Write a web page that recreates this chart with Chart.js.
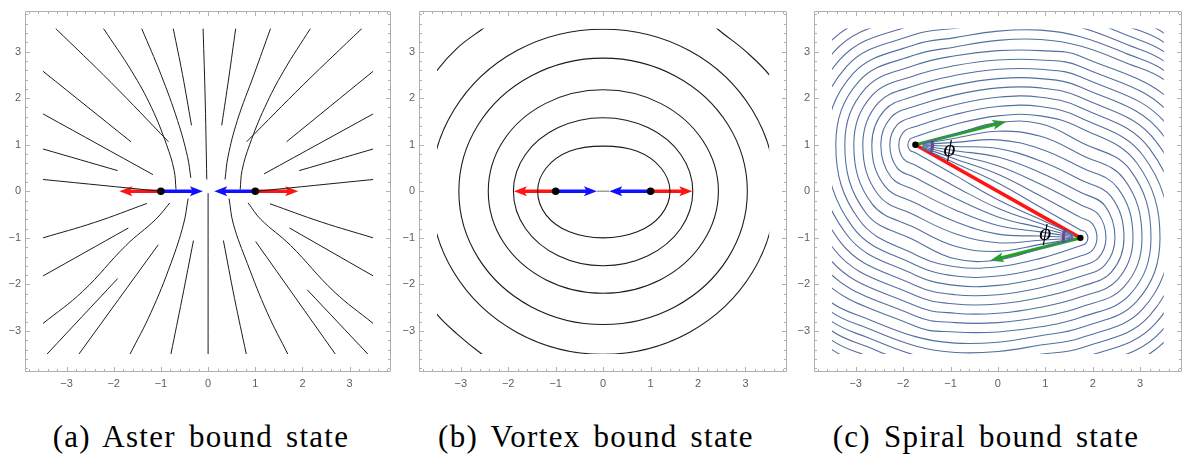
<!DOCTYPE html>
<html>
<head>
<meta charset="utf-8">
<title>Bound states</title>
<script src="https://cdn.jsdelivr.net/npm/chart.js@4.4.1/dist/chart.umd.min.js"></script>
<style>
  html, body { margin: 0; padding: 0; background: #fff; }
  body { position: relative; width: 1185px; height: 462px; overflow: hidden; }
  .panel { position: absolute; top: 0; height: 400px; }
  .caption {
    position: absolute;
    top: 420px;
    width: 400px;
    text-align: center;
    font-family: "Liberation Serif", "Noto Serif", "DejaVu Serif", "Times New Roman", Times, serif;
    font-size: 31px;
    line-height: 34px;
    letter-spacing: 1.3px;
    word-spacing: 4px;
    color: #000;
    white-space: nowrap;
  }
</style>
</head>
<body>
<div class="panel" style="left:0;width:395px"><canvas id="aster"></canvas></div>
<div class="panel" style="left:394px;width:397px"><canvas id="vortex"></canvas></div>
<div class="panel" style="left:789px;width:396px"><canvas id="spiral"></canvas></div>
<div class="caption" style="left:1px">(a) Aster bound state</div>
<div class="caption" style="left:396px">(b) Vortex bound state</div>
<div class="caption" style="left:786px">(c) Spiral bound state</div>

<script>
// axis values shared by the three panels
const TICK_VALUES = [-3, -2, -1, 0, 1, 2, 3];
const AXIS_LIMIT = 3.88;

// ---- (a) aster bound state
const asterParticles = [[-1, 0], [1, 0]];
const asterOutward = [[-1, 0, -1.88, 0], [1, 0, 1.91, 0]];
const asterInward = [[-1, 0, -0.11, 0], [1, 0, 0.13, 0]];
const asterLines = [
  [[-3.235, 3.5], [-2.05, 2.33], [-0.84, 1.064]],
  [[-3.5, 2.579], [-1.635, 1.064]],
  [[-3.5, 1.663], [-1.17, 0.359]],
  [[-3.5, 0.909], [-1.917, 0.444]],
  [[-3.5, 0.254], [-0.994, 0]],
  [[-2.22, 3.5], [-1.62, 2.58], [-1.2, 1.8], [-0.88, 1.0], [-0.72, 0.45], [-0.68, 0.04]],
  [[-1.409, 3.5], [-1.0, 2.509], [-0.648, 1.522], [-0.437, 0.747], [-0.366, 0.289]],
  [[-0.74, 3.5], [-0.543, 2.509], [-0.352, 1.416]],
  [[-0.106, 3.5], [-0.06, 1.9], [-0.028, 0.254]],
  [[0.585, 3.5], [0.44, 2.45], [0.289, 1.416]],
  [[1.325, 3.5], [0.973, 2.509], [0.62, 1.522], [0.423, 0.747], [0.359, 0.254]],
  [[2.171, 3.5], [1.6, 2.58], [1.2, 1.8], [0.88, 1.0], [0.72, 0.45], [0.68, 0.04]],
  [[3.263, 3.5], [2.03, 2.3], [0.817, 1.064]],
  [[3.5, 2.579], [1.663, 1.064]],
  [[3.5, 1.663], [1.184, 0.373]],
  [[3.5, 0.909], [1.931, 0.444]],
  [[3.5, 0.254], [1.022, 0]],
  [[-3.5, -1.0], [-2.41, -0.67], [-1.297, -0.261]],
  [[-3.5, -1.818], [-1.691, -0.789]],
  [[-3.5, -2.84], [-2.657, -2.149], [-1.741, -1.163], [-1.106, -0.599], [-0.81, -0.247]],
  [[-3.418, -3.5], [-1.917, -1.875]],
  [[-2.741, -3.5], [-1.057, -1.149]],
  [[-1.656, -3.5], [-1.212, -2.607], [-0.789, -1.55], [-0.521, -0.705], [-0.423, -0.155]],
  [[-0.789, -3.5], [-0.55, -2.3], [-0.31, -1.057]],
  [[0, -0.04], [0, -3.5]],
  [[3.5, -1.0], [2.4, -0.66], [1.311, -0.268]],
  [[3.5, -1.818], [1.727, -0.789]],
  [[3.5, -2.84], [2.664, -2.149], [1.748, -1.163], [1.113, -0.599], [0.846, -0.247]],
  [[3.39, -3.5], [2.1, -2.114]],
  [[2.699, -3.5], [1.008, -1.078]],
  [[1.691, -3.5], [1.254, -2.607], [0.832, -1.55], [0.536, -0.705], [0.444, -0.155]],
  [[0.81, -3.5], [0.56, -2.3], [0.324, -1.057]]
];

// ---- (b) vortex bound state
const vortexParticles = [[-1, 0], [1, 0]];
const vortexOutward = [[-1, 0, -1.88, 0], [1, 0, 1.88, 0]];
const vortexInward = [[-1, 0, -0.13, 0], [1, 0, 0.13, 0]];
const vortexRings = [
  [[1.22, -0.51], [1.41, 0], [1.22, 0.5], [0.72, 0.86], [0, 0.97], [-0.71, 0.86], [-1.2, 0.5], [-1.38, 0], [-1.2, -0.51], [-0.71, -0.87], [0, -1.0], [0.72, -0.87], [1.22, -0.51], [1.41, 0], [1.22, 0.5]],
  [[1.637, -0.8], [1.89, 0], [1.637, 0.79], [0.945, 1.368], [0, 1.58], [-0.945, 1.368], [-1.637, 0.79], [-1.89, 0], [-1.637, -0.8], [-0.945, -1.385], [0, -1.6], [0.945, -1.385], [1.637, -0.8], [1.89, 0], [1.637, 0.79]],
  [[2.1, -1.095], [2.43, 0], [2.1, 1.09], [1.21, 1.888], [0, 2.18], [-1.21, 1.888], [-2.1, 1.09], [-2.42, 0], [-2.1, -1.095], [-1.21, -1.897], [0, -2.19], [1.21, -1.897], [2.1, -1.095], [2.43, 0], [2.1, 1.09]],
  [[2.633, -1.43], [3.04, 0], [2.633, 1.43], [1.52, 2.477], [0, 2.86], [-1.52, 2.477], [-2.633, 1.43], [-3.04, 0], [-2.633, -1.43], [-1.52, -2.477], [0, -2.86], [1.52, -2.477], [2.633, -1.43], [3.04, 0], [2.633, 1.43]],
  [[3.144, -1.745], [3.63, 0], [3.144, 1.745], [1.815, 3.022], [0, 3.48], [-1.815, 3.022], [-3.144, 1.745], [-3.63, 0], [-3.144, -1.745], [-1.815, -3.03], [0, -3.5], [1.815, -3.03], [3.144, -1.745], [3.63, 0], [3.144, 1.745]]
];
const vortexCorners = [
  [[-3.8, 2.1], [-3.52, 2.57], [-3.08, 3.07], [-2.55, 3.48], [-2.1, 3.8]],
  [[2.1, 3.8], [2.42, 3.48], [2.99, 3.02], [3.52, 2.48], [3.8, 2.0]],
  [[-3.8, -2.15], [-3.52, -2.62], [-3.08, -3.06], [-2.55, -3.5], [-2.1, -3.8]]
];
const vortexMidStub = [[-0.13, 0], [0.13, 0]];

// ---- (c) spiral bound state
const spiralParticles = [[-1.74, 1], [1.74, -1]];
const spiralBond = [[-1.74, 1], [1.74, -1]];
const spiralHeadings = [[-1.74, 1, 0.18, 1.5], [1.74, -1, -0.17, -1.49]];
const spiralPhiLabels = [[-1.02, 0.89], [1.0, -0.92]];
const ANGLE_MARK_RADIUS = 0.36;

// streamlines leaving the upper particle
const spiralArmsA = [
  [[-1.606,0.932],[-0.9,0.604],[0,0.18],[0.9,-0.342],[1.74,-0.83],[1.853,-0.88],[1.9,-1],[1.853,-1.12],[1.74,-1.17],[0.9,-1.44],[0,-1.62],[-0.9,-1.62],[-1.74,-1.36],[-2.928,-0.612],[-3.42,1],[-2.928,2.365],[-1.74,2.93],[-0.9,3.1],[0,3.24],[0.9,3.26],[1.74,3.12],[2.75,2.74],[3.5,2.4],[4.3,1.65]],
  [[-1.6,0.946],[-0.9,0.693],[0,0.365],[0.9,-0.1],[1.74,-0.56],[1.987,-0.689],[2.09,-1],[1.987,-1.276],[1.74,-1.39],[0.9,-1.65],[0,-1.82],[-0.9,-1.82],[-1.74,-1.58],[-3.062,-0.768],[-3.61,1],[-3.062,2.52],[-1.74,3.15],[-0.9,3.3],[0,3.44],[0.9,3.46],[1.74,3.32],[2.75,2.94],[3.5,2.6],[4.3,1.85]],
  [[-1.595,0.961],[-0.9,0.783],[0,0.55],[0.9,0.15],[1.74,-0.29],[2.122,-0.498],[2.28,-1],[2.122,-1.431],[1.74,-1.61],[0.9,-1.86],[0,-2.02],[-0.9,-2.02],[-1.74,-1.8],[-3.196,-0.923],[-3.8,1],[-3.196,2.676],[-1.74,3.37],[-0.9,3.5],[0,3.64],[0.9,3.66],[1.74,3.52],[2.75,3.14],[3.5,2.8],[4.3,2.05]],
  [[-1.592,0.977],[-0.9,0.872],[0,0.735],[0.9,0.4],[1.74,-0.02],[2.256,-0.307],[2.47,-1],[2.256,-1.587],[1.74,-1.83],[0.9,-2.07],[0,-2.22],[-0.9,-2.22],[-1.74,-2.02],[-3.331,-1.079],[-3.99,1],[-3.331,2.831],[-1.74,3.59],[-0.9,3.7],[0,3.84],[0.9,3.86],[1.74,3.72],[2.75,3.34],[3.5,3.0],[4.3,2.25]],
  [[-1.59,0.992],[-0.9,0.961],[0,0.92],[0.9,0.65],[1.74,0.25],[2.39,-0.116],[2.66,-1],[2.39,-1.742],[1.74,-2.05],[0.9,-2.28],[0,-2.42],[-0.9,-2.42],[-1.74,-2.24],[-3.465,-1.234],[-4.18,1],[-3.465,2.987],[-1.74,3.81],[-0.9,3.9],[0,4.04],[0.9,4.06],[1.74,3.92],[2.75,3.54],[3.5,3.2],[4.3,2.45]],
  [[-1.59,1.008],[-0.9,1.051],[0,1.105],[0.9,0.91],[1.74,0.52],[2.525,0.075],[2.85,-1],[2.525,-1.898],[1.74,-2.27],[0.9,-2.49],[0,-2.62],[-0.9,-2.62],[-1.74,-2.46],[-3.599,-1.39],[-4.37,1],[-3.599,3.142],[-1.74,4.03],[-0.9,4.1],[0,4.24],[0.9,4.26],[1.74,4.12],[2.75,3.74],[3.5,3.4],[4.3,2.65]],
  [[-1.591,1.021],[-0.9,1.14],[0,1.29],[0.9,1.18],[1.74,0.79],[2.659,0.266],[3.04,-1],[2.659,-2.053],[1.74,-2.49],[0.9,-2.7],[0,-2.82],[-0.9,-2.82],[-1.74,-2.68],[-3.734,-1.545],[-4.56,1],[-3.734,3.298],[-1.74,4.25],[-0.9,4.3],[0,4.44],[0.9,4.46],[1.74,4.32],[2.75,3.94],[3.5,3.6],[4.3,2.85]],
  [[-1.594,1.034],[-0.9,1.229],[0,1.475],[0.9,1.45],[1.74,1.06],[2.793,0.456],[3.23,-1],[2.793,-2.209],[1.74,-2.71],[0.9,-2.91],[0,-3.02],[-0.9,-3.02],[-1.74,-2.9],[-3.868,-1.701],[-4.75,1],[-3.868,3.453],[-1.74,4.47],[-0.9,4.5],[0,4.64],[0.9,4.66],[1.74,4.52],[2.75,4.14],[3.5,3.8],[4.3,3.05]]
];

// streamlines leaving the lower particle
const spiralArmsB = [
  [[1.606,-0.932],[0.9,-0.604],[0,-0.18],[-0.9,0.342],[-1.74,0.83],[-1.853,0.88],[-1.9,1],[-1.853,1.12],[-1.74,1.17],[-0.9,1.44],[0,1.62],[0.9,1.62],[1.74,1.36],[2.928,0.612],[3.42,-1],[2.928,-2.365],[1.74,-2.93],[0.9,-3.1],[0,-3.24],[-0.9,-3.26],[-1.74,-3.12],[-2.75,-2.74],[-3.5,-2.4],[-4.3,-1.65]],
  [[1.6,-0.946],[0.9,-0.693],[0,-0.365],[-0.9,0.1],[-1.74,0.56],[-1.987,0.689],[-2.09,1],[-1.987,1.276],[-1.74,1.39],[-0.9,1.65],[0,1.82],[0.9,1.82],[1.74,1.58],[3.062,0.768],[3.61,-1],[3.062,-2.52],[1.74,-3.15],[0.9,-3.3],[0,-3.44],[-0.9,-3.46],[-1.74,-3.32],[-2.75,-2.94],[-3.5,-2.6],[-4.3,-1.85]],
  [[1.595,-0.961],[0.9,-0.783],[0,-0.55],[-0.9,-0.15],[-1.74,0.29],[-2.122,0.498],[-2.28,1],[-2.122,1.431],[-1.74,1.61],[-0.9,1.86],[0,2.02],[0.9,2.02],[1.74,1.8],[3.196,0.923],[3.8,-1],[3.196,-2.676],[1.74,-3.37],[0.9,-3.5],[0,-3.64],[-0.9,-3.66],[-1.74,-3.52],[-2.75,-3.14],[-3.5,-2.8],[-4.3,-2.05]],
  [[1.592,-0.977],[0.9,-0.872],[0,-0.735],[-0.9,-0.4],[-1.74,0.02],[-2.256,0.307],[-2.47,1],[-2.256,1.587],[-1.74,1.83],[-0.9,2.07],[0,2.22],[0.9,2.22],[1.74,2.02],[3.331,1.079],[3.99,-1],[3.331,-2.831],[1.74,-3.59],[0.9,-3.7],[0,-3.84],[-0.9,-3.86],[-1.74,-3.72],[-2.75,-3.34],[-3.5,-3.0],[-4.3,-2.25]],
  [[1.59,-0.992],[0.9,-0.961],[0,-0.92],[-0.9,-0.65],[-1.74,-0.25],[-2.39,0.116],[-2.66,1],[-2.39,1.742],[-1.74,2.05],[-0.9,2.28],[0,2.42],[0.9,2.42],[1.74,2.24],[3.465,1.234],[4.18,-1],[3.465,-2.987],[1.74,-3.81],[0.9,-3.9],[0,-4.04],[-0.9,-4.06],[-1.74,-3.92],[-2.75,-3.54],[-3.5,-3.2],[-4.3,-2.45]],
  [[1.59,-1.008],[0.9,-1.051],[0,-1.105],[-0.9,-0.91],[-1.74,-0.52],[-2.525,-0.075],[-2.85,1],[-2.525,1.898],[-1.74,2.27],[-0.9,2.49],[0,2.62],[0.9,2.62],[1.74,2.46],[3.599,1.39],[4.37,-1],[3.599,-3.142],[1.74,-4.03],[0.9,-4.1],[0,-4.24],[-0.9,-4.26],[-1.74,-4.12],[-2.75,-3.74],[-3.5,-3.4],[-4.3,-2.65]],
  [[1.591,-1.021],[0.9,-1.14],[0,-1.29],[-0.9,-1.18],[-1.74,-0.79],[-2.659,-0.266],[-3.04,1],[-2.659,2.053],[-1.74,2.49],[-0.9,2.7],[0,2.82],[0.9,2.82],[1.74,2.68],[3.734,1.545],[4.56,-1],[3.734,-3.298],[1.74,-4.25],[0.9,-4.3],[0,-4.44],[-0.9,-4.46],[-1.74,-4.32],[-2.75,-3.94],[-3.5,-3.6],[-4.3,-2.85]],
  [[1.594,-1.034],[0.9,-1.229],[0,-1.475],[-0.9,-1.45],[-1.74,-1.06],[-2.793,-0.456],[-3.23,1],[-2.793,2.209],[-1.74,2.71],[-0.9,2.91],[0,3.02],[0.9,3.02],[1.74,2.9],[3.868,1.701],[4.75,-1],[3.868,-3.453],[1.74,-4.47],[0.9,-4.5],[0,-4.64],[-0.9,-4.66],[-1.74,-4.52],[-2.75,-4.14],[-3.5,-3.8],[-4.3,-3.05]]
];

const RED = '#ff1414';
const BLUE = '#1010ff';
const GREEN = '#22a322';
const PURPLE = '#8a0a8a';
const INK = '#1c1c1c';
const STREAM = '#52709f';

function fmtTick(v) {
  return v < 0 ? '\u2212' + Math.abs(v) : String(v);
}

function axis(isX) {
  return {
    type: 'linear',
    min: -AXIS_LIMIT,
    max: AXIS_LIMIT,
    afterBuildTicks: s => { s.ticks = TICK_VALUES.map(value => ({ value })); },
    afterFit: s => { if (isX) s.height = 28; else s.width = 25; },
    grid: { display: false, drawTicks: false },
    border: { display: false },
    ticks: {
      color: '#5f5f5f',
      font: { family: "'Liberation Sans', 'DejaVu Sans', sans-serif", size: 11 },
      padding: isX ? 5 : 4,
      autoSkip: false,
      maxRotation: 0,
      callback: v => fmtTick(v)
    }
  };
}

// one streamline / contour; closed loops hide their overlapping end pieces
function curve(points, color, width, tension, closed) {
  const n = points.length;
  const ds = {
    type: 'line',
    data: points.map(([x, y]) => ({ x, y })),
    borderColor: color,
    borderWidth: width,
    pointRadius: 0,
    pointHoverRadius: 0,
    fill: false,
    tension: tension,
    capBezierPoints: false,
    clip: -18
  };
  if (closed) {
    ds.segment = {
      borderColor: c => (c.p0DataIndex === 0 || c.p1DataIndex === n - 1) ? 'rgba(0,0,0,0)' : color
    };
  }
  return ds;
}

function dots(points, radius) {
  return {
    type: 'scatter',
    data: points.map(([x, y]) => ({ x, y })),
    pointRadius: radius,
    pointHoverRadius: radius,
    pointBackgroundColor: '#000',
    pointBorderWidth: 0,
    showLine: false,
    clip: false
  };
}

function drawArrow(ctx, p0, p1, color, shaft, headLen, headHalf) {
  const ang = Math.atan2(p1[1] - p0[1], p1[0] - p0[0]);
  const c = Math.cos(ang), s = Math.sin(ang);
  const bx = p1[0] - headLen * c, by = p1[1] - headLen * s;
  ctx.strokeStyle = color;
  ctx.fillStyle = color;
  ctx.lineWidth = shaft;
  ctx.lineCap = 'butt';
  ctx.beginPath();
  ctx.moveTo(p0[0], p0[1]);
  ctx.lineTo(bx + 0.3 * headLen * c, by + 0.3 * headLen * s);
  ctx.stroke();
  ctx.beginPath();
  ctx.moveTo(p1[0], p1[1]);
  ctx.lineTo(bx - headHalf * s, by + headHalf * c);
  ctx.lineTo(bx + 0.22 * headLen * c, by + 0.22 * headLen * s);
  ctx.lineTo(bx + headHalf * s, by - headHalf * c);
  ctx.closePath();
  ctx.fill();
}

function drawFrame(chart) {
  const { ctx, chartArea: a, scales: { x, y } } = chart;
  ctx.save();
  ctx.strokeStyle = '#b0b0b0';
  ctx.lineWidth = 1;
  ctx.beginPath();
  const l = Math.round(a.left) + 0.5, t = Math.round(a.top) + 0.5;
  const r = Math.round(a.right) - 0.5, b = Math.round(a.bottom) - 0.5;
  ctx.rect(l, t, r - l, b - t);
  for (let k = -19; k <= 19; k++) {
    const v = k / 5;
    const len = k % 5 === 0 ? 4.5 : 2.5;
    const px = Math.round(x.getPixelForValue(v)) + 0.5;
    const py = Math.round(y.getPixelForValue(v)) + 0.5;
    ctx.moveTo(px, b); ctx.lineTo(px, b - len);
    ctx.moveTo(px, t); ctx.lineTo(px, t + len);
    ctx.moveTo(l, py); ctx.lineTo(l + len, py);
    ctx.moveTo(r, py); ctx.lineTo(r - len, py);
  }
  ctx.stroke();
  ctx.restore();
}

// arrows, bond and angle marks go under the particle dots (last dataset)
function overlay(spec) {
  return {
    id: 'overlay',
    beforeDatasetDraw(chart, args) {
      if (args.index !== chart.data.datasets.length - 1) return;
      const { ctx, scales: { x, y } } = chart;
      const toPx = (vx, vy) => [x.getPixelForValue(vx), y.getPixelForValue(vy)];
      ctx.save();
      (spec.bonds || []).forEach(([p, q]) => {
        const a = toPx(p[0], p[1]), b = toPx(q[0], q[1]);
        ctx.strokeStyle = RED;
        ctx.lineWidth = 3.5;
        ctx.lineCap = 'round';
        ctx.beginPath();
        ctx.moveTo(a[0], a[1]);
        ctx.lineTo(b[0], b[1]);
        ctx.stroke();
      });
      (spec.arrows || []).forEach(set => {
        set.list.forEach(([x0, y0, x1, y1]) => {
          drawArrow(ctx, toPx(x0, y0), toPx(x1, y1), set.color, set.shaft, set.head, set.half);
        });
      });
      if (spec.angles) {
        const rPx = Math.abs(x.getPixelForValue(spec.angles.radius) - x.getPixelForValue(0));
        spec.angles.list.forEach(({ at, toward, heading }) => {
          const c = toPx(at[0], at[1]);
          const pa = toPx(toward[0], toward[1]);
          const pb = toPx(heading[0], heading[1]);
          const a1 = Math.atan2(pa[1] - c[1], pa[0] - c[0]);
          const a2 = Math.atan2(pb[1] - c[1], pb[0] - c[0]);
          let d = a2 - a1;
          while (d > Math.PI) d -= 2 * Math.PI;
          while (d < -Math.PI) d += 2 * Math.PI;
          ctx.strokeStyle = PURPLE;
          ctx.lineWidth = 3.2;
          ctx.lineCap = 'butt';
          ctx.beginPath();
          ctx.arc(c[0], c[1], rPx, a1, a1 + d, d < 0);
          ctx.stroke();
        });
      }
      ctx.restore();
    },
    afterDatasetsDraw(chart) {
      if (!spec.labels) return;
      const { ctx, scales: { x, y } } = chart;
      ctx.save();
      ctx.fillStyle = '#000';
      ctx.font = 'italic 23px "Liberation Serif", "DejaVu Serif", serif';
      ctx.textAlign = 'center';
      ctx.textBaseline = 'middle';
      spec.labels.list.forEach(([vx, vy]) => {
        ctx.fillText(spec.labels.text, x.getPixelForValue(vx), y.getPixelForValue(vy));
      });
      ctx.restore();
    },
    afterDraw(chart) {
      drawFrame(chart);
    }
  };
}

function makeChart(id, datasets, spec) {
  return new Chart(document.getElementById(id), {
    type: 'scatter',
    data: { datasets },
    options: {
      responsive: true,
      maintainAspectRatio: false,
      animation: false,
      events: [],
      layout: { padding: { top: 5, right: 3, left: 0, bottom: 0 } },
      plugins: { legend: { display: false }, tooltip: { enabled: false } },
      scales: { x: axis(true), y: axis(false) }
    },
    plugins: [overlay(spec)]
  });
}

const pairArrows = (outward, inward) => [
  { list: outward, color: RED, shaft: 3.5, head: 13, half: 5 },
  { list: inward, color: BLUE, shaft: 3.5, head: 13, half: 5 }
];

makeChart('aster',
  [...asterLines.map(l => curve(l, INK, 1, 0.4, false)), dots(asterParticles, 3.8)],
  { arrows: pairArrows(asterOutward, asterInward) });

makeChart('vortex',
  [
    ...vortexRings.map(r => curve(r, INK, 1.1, 0.35, true)),
    ...vortexCorners.map(c => curve(c, INK, 1.1, 0.4, false)),
    curve(vortexMidStub, '#a0a0a0', 1.5, 0, false),
    dots(vortexParticles, 3.8)
  ],
  { arrows: pairArrows(vortexOutward, vortexInward) });

makeChart('spiral',
  [
    ...spiralArmsA.map(l => curve(l, STREAM, 1.1, 0.4, false)),
    ...spiralArmsB.map(l => curve(l, STREAM, 1.1, 0.4, false)),
    dots(spiralParticles, 3.2)
  ],
  {
    bonds: [[spiralBond[0], spiralBond[1]]],
    arrows: [{ list: spiralHeadings, color: GREEN, shaft: 3.3, head: 14, half: 5 }],
    angles: {
      radius: ANGLE_MARK_RADIUS,
      list: [
        { at: spiralParticles[0], toward: spiralParticles[1], heading: spiralHeadings[0].slice(2) },
        { at: spiralParticles[1], toward: spiralParticles[0], heading: spiralHeadings[1].slice(2) }
      ]
    },
    labels: { text: '\u03D5', list: spiralPhiLabels }
  });
</script>
</body>
</html>
